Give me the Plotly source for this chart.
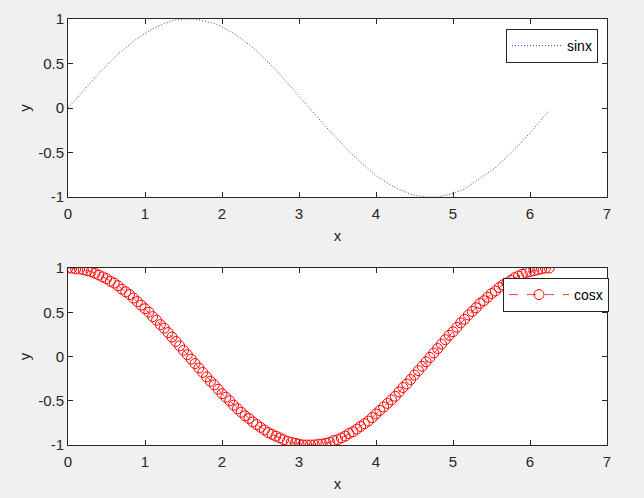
import plotly.graph_objects as go

x_vals = [0.00, 0.05, 0.10, 0.15, 0.20, 0.25, 0.30, 0.35, 0.40, 0.45,
          0.50, 0.55, 0.60, 0.65, 0.70, 0.75, 0.80, 0.85, 0.90, 0.95,
          1.00, 1.05, 1.10, 1.15, 1.20, 1.25, 1.30, 1.35, 1.40, 1.45,
          1.50, 1.55, 1.60, 1.65, 1.70, 1.75, 1.80, 1.85, 1.90, 1.95,
          2.00, 2.05, 2.10, 2.15, 2.20, 2.25, 2.30, 2.35, 2.40, 2.45,
          2.50, 2.55, 2.60, 2.65, 2.70, 2.75, 2.80, 2.85, 2.90, 2.95,
          3.00, 3.05, 3.10, 3.15, 3.20, 3.25, 3.30, 3.35, 3.40, 3.45,
          3.50, 3.55, 3.60, 3.65, 3.70, 3.75, 3.80, 3.85, 3.90, 3.95,
          4.00, 4.05, 4.10, 4.15, 4.20, 4.25, 4.30, 4.35, 4.40, 4.45,
          4.50, 4.55, 4.60, 4.65, 4.70, 4.75, 4.80, 4.85, 4.90, 4.95,
          5.00, 5.05, 5.10, 5.15, 5.20, 5.25, 5.30, 5.35, 5.40, 5.45,
          5.50, 5.55, 5.60, 5.65, 5.70, 5.75, 5.80, 5.85, 5.90, 5.95,
          6.00, 6.05, 6.10, 6.15, 6.20, 6.25]

sin_vals = [0.00, 0.05, 0.10, 0.15, 0.20, 0.25, 0.30, 0.34, 0.39, 0.43,
            0.48, 0.52, 0.56, 0.61, 0.64, 0.68, 0.72, 0.75, 0.78, 0.81,
            0.84, 0.87, 0.89, 0.91, 0.93, 0.95, 0.96, 0.98, 0.99, 0.99,
            1.00, 1.00, 1.00, 1.00, 0.99, 0.98, 0.97, 0.96, 0.95, 0.93,
            0.91, 0.89, 0.86, 0.84, 0.81, 0.78, 0.75, 0.71, 0.68, 0.64,
            0.60, 0.56, 0.52, 0.47, 0.43, 0.38, 0.33, 0.29, 0.24, 0.19,
            0.14, 0.09, 0.04, -0.01, -0.06, -0.11, -0.16, -0.21, -0.26, -0.30,
            -0.35, -0.40, -0.44, -0.49, -0.53, -0.57, -0.61, -0.65, -0.69, -0.72,
            -0.76, -0.79, -0.82, -0.85, -0.87, -0.89, -0.92, -0.93, -0.95, -0.97,
            -0.98, -0.99, -0.99, -1.00, -1.00, -1.00, -1.00, -0.99, -0.98, -0.97,
            -0.96, -0.94, -0.93, -0.91, -0.88, -0.86, -0.83, -0.80, -0.77, -0.74,
            -0.71, -0.67, -0.63, -0.59, -0.55, -0.51, -0.46, -0.42, -0.37, -0.33,
            -0.28, -0.23, -0.18, -0.13, -0.08, -0.03]

cos_vals = [1.00, 1.00, 0.99, 0.99, 0.98, 0.97, 0.96, 0.94, 0.92, 0.90,
            0.88, 0.85, 0.83, 0.80, 0.76, 0.73, 0.70, 0.66, 0.62, 0.58,
            0.54, 0.50, 0.45, 0.41, 0.36, 0.32, 0.27, 0.22, 0.17, 0.12,
            0.07, 0.02, -0.03, -0.08, -0.13, -0.18, -0.23, -0.28, -0.32, -0.37,
            -0.42, -0.46, -0.50, -0.55, -0.59, -0.63, -0.67, -0.70, -0.74, -0.77,
            -0.80, -0.83, -0.86, -0.88, -0.90, -0.92, -0.94, -0.96, -0.97, -0.98,
            -0.99, -1.00, -1.00, -1.00, -1.00, -0.99, -0.99, -0.98, -0.97, -0.95,
            -0.94, -0.92, -0.90, -0.87, -0.85, -0.82, -0.79, -0.76, -0.73, -0.69,
            -0.65, -0.61, -0.57, -0.53, -0.49, -0.45, -0.40, -0.35, -0.31, -0.26,
            -0.21, -0.16, -0.11, -0.06, -0.01, 0.04, 0.09, 0.14, 0.19, 0.24,
            0.28, 0.33, 0.38, 0.42, 0.47, 0.51, 0.55, 0.60, 0.63, 0.67,
            0.71, 0.74, 0.78, 0.81, 0.83, 0.86, 0.89, 0.91, 0.93, 0.95,
            0.96, 0.97, 0.98, 0.99, 1.00, 1.00]

x_ticks = [0, 1, 2, 3, 4, 5, 6, 7]
y_ticks = [-1, -0.5, 0, 0.5, 1]
y_tick_text = ["-1", "-0.5", "0", "0.5", "1"]

W, H = 644, 498
L, R, T, B = 68, 37, 19, 53
PH = H - T - B
FONT = "Liberation Sans, Arial, sans-serif"
AX = "#262626"

fig = go.Figure()
fig.add_trace(go.Scatter(
    x=x_vals, y=sin_vals, mode="lines", name="sinx",
    line=dict(color="#3333ff", width=1, dash="1px,2px"),
    xaxis="x", yaxis="y", legend="legend",
))
fig.add_trace(go.Scatter(
    x=x_vals, y=cos_vals, mode="lines+markers", name="cosx",
    line=dict(color="#ff0000", width=0.8, dash="dash"),
    marker=dict(symbol="circle-open", size=10, color="#ff0000",
                line=dict(color="#ff0000", width=1)),
    xaxis="x2", yaxis="y2", legend="legend2",
))

def xax(anchor):
    return dict(
        domain=[0, 1], range=[0, 7], anchor=anchor, automargin=False,
        tickvals=x_ticks, ticks="inside", ticklen=5, tickcolor=AX,
        showline=True, linecolor=AX, linewidth=1, mirror="ticks",
        showgrid=False, zeroline=False, ticklabelstandoff=3,
        tickfont=dict(family=FONT, size=15, color=AX),
        title=dict(text="x", font=dict(family=FONT, size=15, color=AX), standoff=9),
    )

def yax(anchor, dom):
    return dict(
        domain=dom, range=[-1, 1], anchor=anchor, automargin=False,
        tickvals=y_ticks, ticktext=y_tick_text,
        ticks="inside", ticklen=5, tickcolor=AX,
        showline=True, linecolor=AX, linewidth=1, mirror="ticks",
        showgrid=False, zeroline=False,
        tickfont=dict(family=FONT, size=15, color=AX),
        title=dict(text="y", font=dict(family=FONT, size=15, color=AX), standoff=3),
    )

fig.update_layout(
    width=W, height=H,
    margin=dict(l=L, r=R, t=T, b=B),
    paper_bgcolor="#f0f0f0",
    plot_bgcolor="#ffffff",
    font=dict(family=FONT, size=14, color=AX),
    xaxis=xax("y"),
    yaxis=yax("x", [(445 - 197) / PH, 1]),
    xaxis2=xax("y2"),
    yaxis2=yax("x2", [0, (445 - 268) / PH]),
    legend=dict(
        x=(598 - L) / (W - L - R), y=(445 - 29) / PH, xanchor="right", yanchor="top",
        bgcolor="#ffffff", bordercolor=AX, borderwidth=1,
        font=dict(family=FONT, size=14, color="#000000"),
        tracegroupgap=0, itemwidth=50,
    ),
    legend2=dict(
        x=(609 - L) / (W - L - R), y=(445 - 278) / PH, xanchor="right", yanchor="top",
        bgcolor="#ffffff", bordercolor=AX, borderwidth=1,
        font=dict(family=FONT, size=14, color="#000000"),
        tracegroupgap=0, itemwidth=60,
    ),
    showlegend=True,
)

fig.write_html(
    "out.html",
    config={"displayModeBar": False},
    post_script="document.body.style.margin='0px';document.body.style.background='#f0f0f0';",
)
